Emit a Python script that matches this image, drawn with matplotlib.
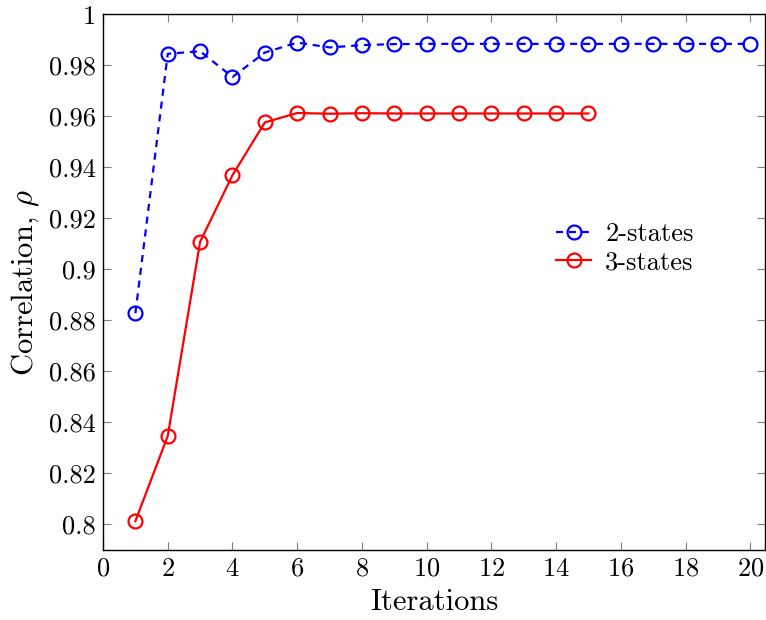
import matplotlib
matplotlib.use("Agg")
import matplotlib.pyplot as plt
from matplotlib.ticker import FixedLocator, FuncFormatter

# data
iters_2 = list(range(1, 21))
rho_2 = [0.8828, 0.9845, 0.9855, 0.9754, 0.9850, 0.9889, 0.9870, 0.9879,
         0.9883, 0.9884, 0.9884, 0.9884, 0.9884, 0.9884, 0.9884, 0.9884,
         0.9884, 0.9884, 0.9884, 0.9884]
iters_3 = list(range(1, 16))
rho_3 = [0.8013, 0.8347, 0.9108, 0.9369, 0.9576, 0.9613, 0.9610, 0.9612,
         0.9611, 0.9611, 0.9611, 0.9611, 0.9611, 0.9611, 0.9611]
labels = ["2-states", "3-states"]

plt.rcParams["font.family"] = "serif"
plt.rcParams["font.serif"] = ["cmr10", "DejaVu Serif"]
plt.rcParams["mathtext.fontset"] = "cm"
plt.rcParams["axes.formatter.use_mathtext"] = True

fig = plt.figure(figsize=(7.66, 6.2), dpi=100)
ax = fig.add_axes([0.1345, 0.113, 0.864, 0.864])

ax.plot(iters_2, rho_2, color="blue", linestyle=(0, (3.2, 2.6)), linewidth=1.6,
        marker="o", markersize=10, markerfacecolor="none", markeredgewidth=1.6,
        label=labels[0])
ax.plot(iters_3, rho_3, color="red", linestyle="-", linewidth=1.6,
        marker="o", markersize=10, markerfacecolor="none", markeredgewidth=1.6,
        label=labels[1])

ax.set_xlim(0, 20.45)
ax.set_ylim(0.79, 1.0)
ax.xaxis.set_major_locator(FixedLocator(range(0, 21, 2)))
ax.yaxis.set_major_locator(FixedLocator([0.8 + 0.02 * i for i in range(11)]))
ax.yaxis.set_major_formatter(FuncFormatter(lambda v, p: "%g" % round(v, 2)))
ax.tick_params(direction="in", length=6, width=0.8, color="#7f7f7f",
               top=True, right=True, labelsize=19, pad=5)
for s in ax.spines.values():
    s.set_linewidth(1.0)

ax.set_xlabel("Iterations", fontsize=22, labelpad=6)
ax.set_ylabel(r"Correlation, $\rho$", fontsize=22, labelpad=6)

ax.legend(loc="center left", bbox_to_anchor=(0.685, 0.563), frameon=False,
          fontsize=19, handlelength=1.3, labelspacing=0.15, handletextpad=0.55,
          borderpad=0, borderaxespad=0)

fig.savefig("out.png", dpi=100)
